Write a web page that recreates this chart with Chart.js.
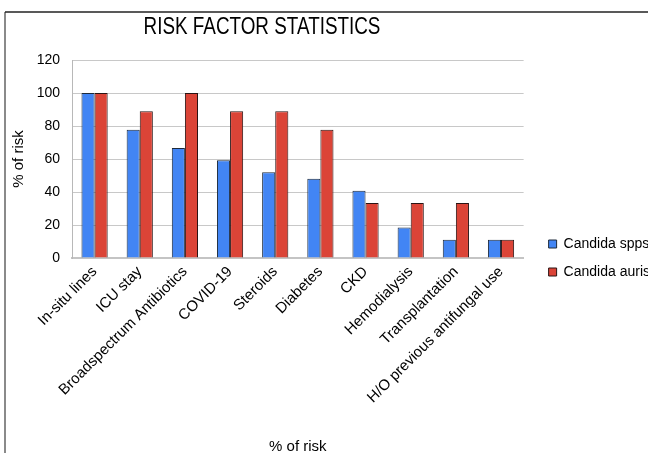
<!DOCTYPE html>
<html>
<head>
<meta charset="utf-8">
<script src="https://cdn.jsdelivr.net/npm/chart.js@4"></script>
<style>
  html, body { margin: 0; padding: 0; background: #fff; }
  #wrap { position: relative; width: 648px; height: 453px; }
</style>
</head>
<body>
<div id="wrap"><canvas id="chart"></canvas></div>
<script>
const categories = [
  'In-situ lines', 'ICU stay', 'Broadspectrum Antibiotics', 'COVID-19', 'Steroids',
  'Diabetes', 'CKD', 'Hemodialysis', 'Transplantation', 'H/O previous antifungal use'
];
const candidaSpps  = [100, 77.8, 66.7, 59.3, 51.9, 48.1, 40.7, 18.5, 11.1, 11.1];
const candidaAuris = [100, 88.9, 100, 88.9, 88.9, 77.8, 33.3, 33.3, 33.3, 11.1];
const yTicks = [0, 20, 40, 60, 80, 100, 120];

const FONT = 'Liberation Sans, Arial, sans-serif';

// frame lines around the figure and a condensed title
const framePlugin = {
  id: 'frame',
  beforeDraw(chart) {
    const ctx = chart.ctx;
    ctx.save();
    ctx.fillStyle = '#ffffff';
    ctx.fillRect(0, 0, chart.width, chart.height);
    ctx.strokeStyle = '#8a8a8a';
    ctx.lineWidth = 2;
    ctx.beginPath();
    ctx.moveTo(5, 12);
    ctx.lineTo(5, chart.height);
    ctx.stroke();
    ctx.strokeStyle = '#222222';
    ctx.lineWidth = 1.5;
    ctx.beginPath();
    ctx.moveTo(5, 12);
    ctx.lineTo(chart.width, 12);
    ctx.stroke();
    ctx.restore();
  },
  afterDraw(chart) {
    const ctx = chart.ctx;
    ctx.save();
    ctx.fillStyle = '#000000';
    ctx.font = '24.5px ' + FONT;
    ctx.textAlign = 'center';
    ctx.textBaseline = 'alphabetic';
    ctx.translate(262, 34);
    ctx.scale(0.77, 1);
    ctx.fillText('RISK FACTOR STATISTICS', 0, 0);
    ctx.restore();
  }
};

new Chart(document.getElementById('chart'), {
  type: 'bar',
  data: {
    labels: categories,
    datasets: [
      {
        label: 'Candida spps',
        data: candidaSpps,
        backgroundColor: '#4285f4',
        borderColor: '#1e2a3a',
        borderWidth: 1,
        borderSkipped: 'bottom'
      },
      {
        label: 'Candida auris',
        data: candidaAuris,
        backgroundColor: '#db4437',
        borderColor: '#2a1414',
        borderWidth: 1,
        borderSkipped: 'bottom'
      }
    ]
  },
  options: {
    responsive: true,
    maintainAspectRatio: false,
    animation: false,
    layout: { padding: { top: 60, left: 10, right: -12, bottom: -3 } },
    datasets: { bar: { barPercentage: 1.0, categoryPercentage: 0.58 } },
    plugins: {
      title: { display: false },
      tooltip: { enabled: false },
      legend: {
        position: 'right',
        align: 'center',
        labels: {
          boxWidth: 8,
          boxHeight: 8,
          padding: 14,
          color: '#000000',
          font: { family: FONT, size: 14 }
        }
      }
    },
    scales: {
      x: {
        grid: { display: false, drawTicks: false },
        border: { display: true, color: '#c4c4c4', width: 2 },
        ticks: {
          color: '#000000',
          font: { family: FONT, size: 15 },
          maxRotation: 45,
          minRotation: 45,
          autoSkip: false,
          padding: 5
        },
        title: {
          display: true,
          text: '% of risk',
          color: '#000000',
          font: { family: FONT, size: 15 },
          padding: { top: 4, bottom: 0 }
        },
        afterFit(scale) { scale.height = 198; }
      },
      y: {
        min: 0,
        max: 120,
        afterBuildTicks(scale) { scale.ticks = yTicks.map(v => ({ value: v })); },
        grid: { color: '#c8c8c8', lineWidth: 1, drawTicks: false },
        border: { display: true, color: '#b8b8b8', width: 1 },
        ticks: {
          color: '#000000',
          font: { family: FONT, size: 14 },
          padding: 12
        },
        title: {
          display: true,
          text: '% of risk',
          color: '#000000',
          font: { family: FONT, size: 15 },
          padding: { top: 0, bottom: 4 }
        },
        afterFit(scale) { scale.width = 62; }
      },
      // hidden right-hand axis that only keeps a gap between the plot and the legend
      gap: {
        position: 'right',
        display: false,
        grid: { display: false, drawTicks: false },
        border: { display: false },
        ticks: { display: false },
        afterFit(scale) { scale.width = 11; }
      }
    }
  },
  plugins: [framePlugin]
});
</script>
</body>
</html>
